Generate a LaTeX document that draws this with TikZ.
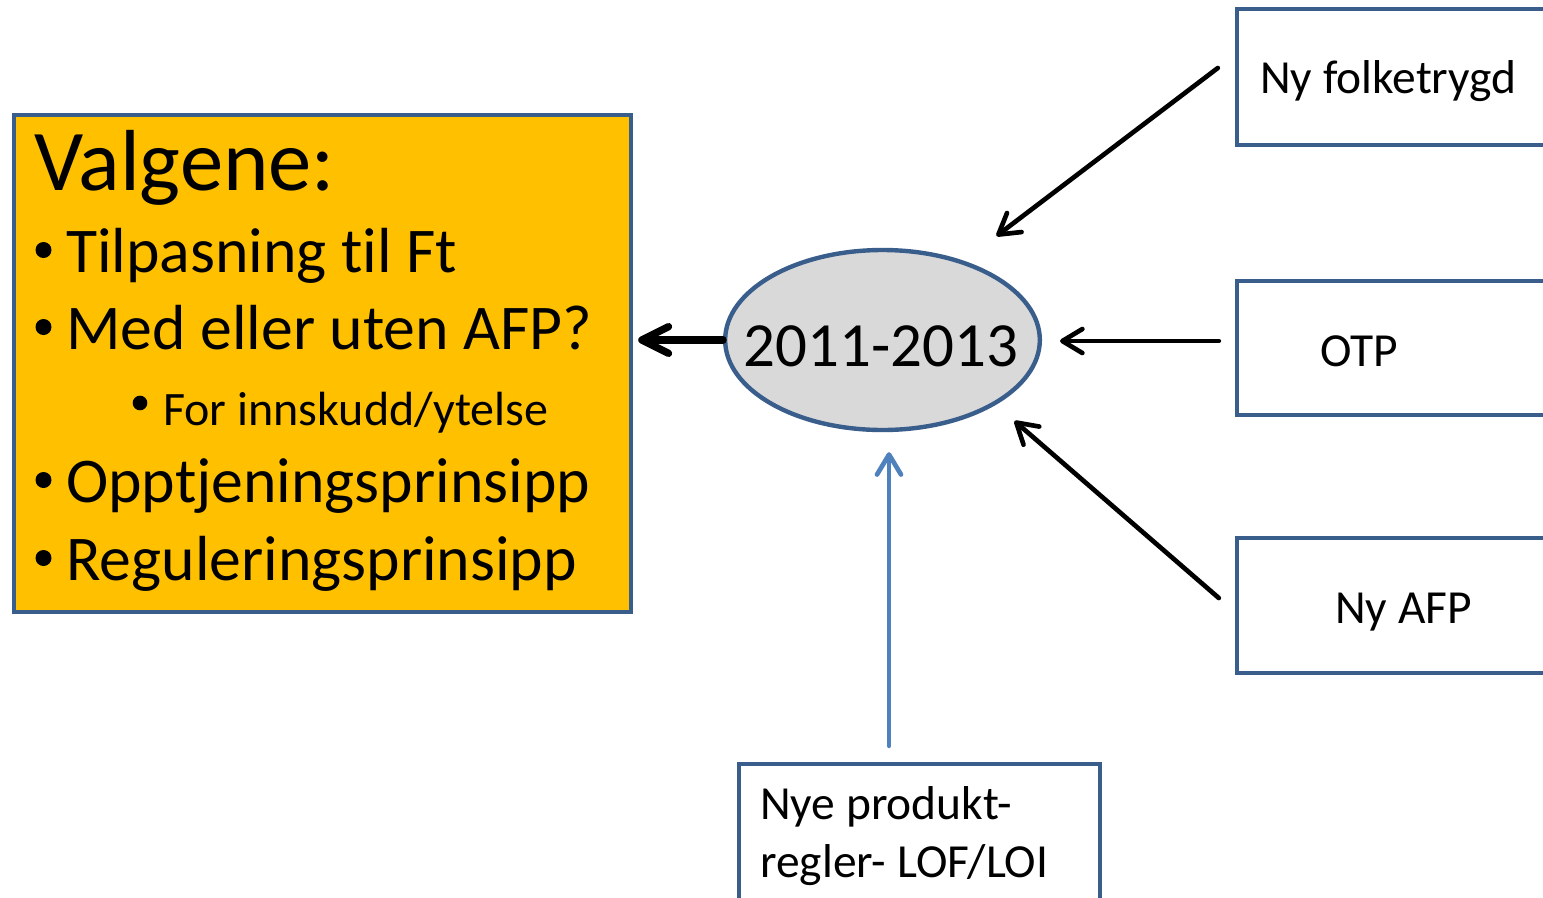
\documentclass[tikz,border=0pt]{standalone}
\usepackage{fontspec}
\setmainfont{Carlito}[Ligatures=NoCommon]
\usetikzlibrary{arrows.meta,shapes.geometric}
\definecolor{bord}{HTML}{3A5E8C}
\definecolor{gold}{HTML}{FFC000}
\definecolor{ellfill}{HTML}{D9D9D9}
\definecolor{bluearr}{HTML}{4F81BD}
\begin{document}
\begin{tikzpicture}[x=0.75pt,y=-0.75pt,
  boxstyle/.style={draw=bord,line width=3.3pt,rectangle,inner sep=0pt},
  txt/.style={anchor=base west,inner sep=0pt,text=black},
  dot/.style={circle,fill=black,inner sep=0pt,minimum size=#1},
  thinarr/.style={line width=3.5pt,line cap=round,-{Straight Barb[length=15pt,width=18pt,round]}},
  thickarr/.style={line width=5.5pt,line cap=round,-{Straight Barb[length=20pt,width=20pt,round]}},
  bigfont/.style={font=\fontsize{47.8pt}{50pt}\selectfont},
  boxfont/.style={font=\fontsize{35.6pt}{40pt}\selectfont}]
\clip (0,0) rectangle (1543,897);
\fill[white] (0,0) rectangle (1543,897);
% orange box
\node[boxstyle,fill=gold,minimum width=462.75pt,minimum height=372.75pt] (orange) at (322.5,363.5) {};
\node[txt,font=\fontsize{65pt}{70pt}\selectfont] (valg) at (34,190) {Valgene:};
\node[dot=12pt] (b1) at (43.5,250) {};
\node[txt,bigfont] (t1) at (66,272) {Tilpasning til Ft};
\node[dot=12pt] (b2) at (43.5,327) {};
\node[txt,bigfont] (t2) at (66,349) {Med eller uten AFP?};
\node[dot=11pt] (b3) at (140,403) {};
\node[txt,font=\fontsize{36pt}{40pt}\selectfont] (t3) at (163,425) {For innskudd/ytelse};
\node[dot=12pt] (b4) at (43.5,480) {};
\node[txt,bigfont] (t4) at (66,502) {Opptjeningsprinsipp};
\node[dot=12pt] (b5) at (43.5,558) {};
\node[txt,bigfont] (t5) at (66,580) {Reguleringsprinsipp};
% ellipse
\node[ellipse,draw=bord,line width=3.3pt,fill=ellfill,minimum width=236pt,minimum height=135pt,inner sep=0pt] (ell) at (882.5,340) {};
\node[anchor=base,inner sep=0pt,font=\fontsize{47.2pt}{50pt}\selectfont] (year) at (881,366) {2011-2013};
% right boxes
\node[boxstyle,minimum width=302.25pt,minimum height=102pt] (box1) at (1438.5,77) {};
\node[txt,boxfont] (n1) at (1260,93) {Ny folketrygd};
\node[boxstyle,minimum width=302.25pt,minimum height=100.5pt] (box2) at (1438.5,348) {};
\node[txt,boxfont] (n2) at (1320,366) {OTP};
\node[boxstyle,minimum width=302.25pt,minimum height=101.25pt] (box3) at (1438.5,605.5) {};
\node[txt,boxfont] (n3) at (1335,623) {Ny AFP};
% bottom box
\node[boxstyle,minimum width=270.75pt,minimum height=177pt] (box4) at (919.5,882) {};
\node[txt,boxfont] (n4a) at (760,819) {Nye produkt-};
\node[txt,boxfont] (n4b) at (760,877) {regler- LOF/LOI};
% connectors
\draw[thickarr] (ell.west) -- ([shift={(5,0)}]orange.east |- ell.west);
\draw[thinarr] ([shift={(-17,-9)}]box1.west) -- ([shift={(114,-104)}]ell.center);
\draw[thinarr] ([shift={(-16,-7)}]box2.west) -- ([shift={(18,1)}]ell.east);
\draw[thinarr] ([shift={(-16,-7.5)}]box3.west) -- ([shift={(132,81)}]ell.center);
\draw[thinarr,draw=bluearr] ([shift={(-30.5,-16)}]box4.north) -- ([shift={(6.5,20)}]ell.south);
\end{tikzpicture}
\end{document}
